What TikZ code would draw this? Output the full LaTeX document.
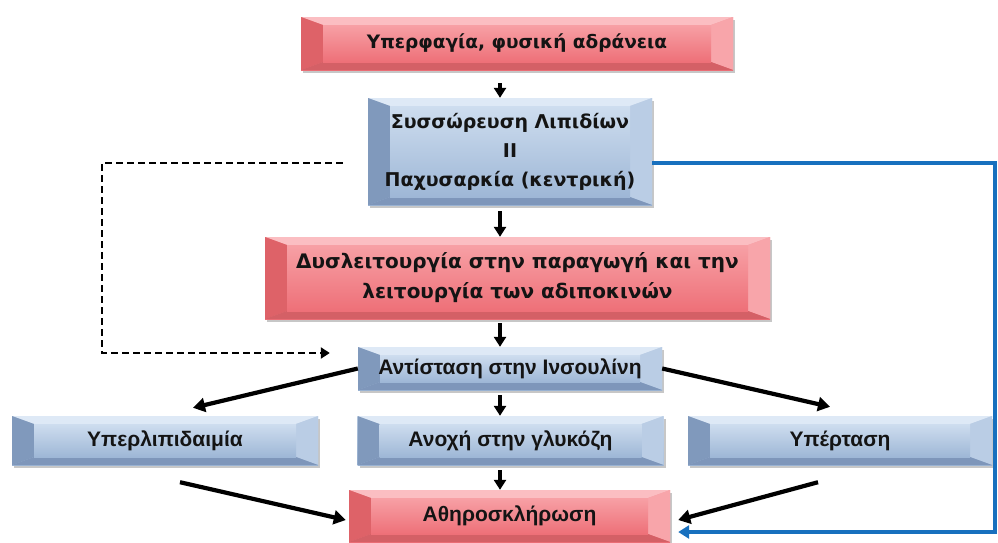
\documentclass[tikz,border=0pt]{standalone}
\usepackage{fontspec}
\setmainfont{DejaVu Sans}
\newfontfamily\narrowfont{Liberation Sans}
\usetikzlibrary{arrows.meta,shadows,calc}

\definecolor{ink}{RGB}{20,20,20}
% red bevel palette
\definecolor{redtop}{RGB}{251,190,194}
\definecolor{redleft}{RGB}{222,98,104}
\definecolor{redright}{RGB}{248,165,170}
\definecolor{redbot}{RGB}{212,96,102}
\definecolor{redhi}{RGB}{247,160,165}
\definecolor{redlo}{RGB}{238,112,120}
% blue bevel palette
\definecolor{bluetop}{RGB}{222,233,246}
\definecolor{blueleft}{RGB}{128,153,188}
\definecolor{blueright}{RGB}{186,205,229}
\definecolor{bluebot}{RGB}{126,150,186}
\definecolor{bluehi}{RGB}{206,221,239}
\definecolor{bluelo}{RGB}{158,183,214}
\definecolor{linkblue}{RGB}{24,112,190}

\begin{document}
\begin{tikzpicture}[x=1pt,y=-1pt,
  every node/.style={text=ink, align=center},
  bevelbox/.style n args={6}{rectangle, inner sep=0pt,
    drop shadow={shadow xshift=2pt, shadow yshift=-3pt, opacity=0.22, fill=black},
    path picture={
      \coordinate (bvsw) at (path picture bounding box.south west);
      \coordinate (bvne) at (path picture bounding box.north east);
      \coordinate (bvnw) at (bvsw |- bvne);
      \coordinate (bvse) at (bvne |- bvsw);
      \coordinate (ivsw) at ($(bvsw)+(22pt,8pt)$);
      \coordinate (ivne) at ($(bvne)+(-22pt,-8pt)$);
      \coordinate (ivnw) at (ivsw |- ivne);
      \coordinate (ivse) at (ivne |- ivsw);
      \shade[top color=#5, bottom color=#6] (bvsw) rectangle (bvne);
      \fill[#1] (bvnw) -- (bvne) -- (ivne) -- (ivnw) -- cycle;
      \fill[#2] (bvnw) -- (ivnw) -- (ivsw) -- (bvsw) -- cycle;
      \fill[#3] (bvne) -- (bvse) -- (ivse) -- (ivne) -- cycle;
      \fill[#4] (bvsw) -- (ivsw) -- (ivse) -- (bvse) -- cycle;
      \shade[top color=#5, bottom color=#6] (ivsw) rectangle (ivne);
    }},
  redbox/.style={bevelbox={redtop}{redleft}{redright}{redbot}{redhi}{redlo}},
  bluebox/.style={bevelbox={bluetop}{blueleft}{blueright}{bluebot}{bluehi}{bluelo}},
  smalltext/.style={font=\narrowfont\bfseries\fontsize{21}{24}\selectfont},
  varrow/.style={draw=black, line width=3.4pt, -{Triangle[width=12pt,length=10pt]}},
  darrow/.style={draw=black, line width=4.2pt, -{Triangle[width=14pt,length=12pt]}},
  dasharrow/.style={draw=black, line width=2.4pt, dash pattern=on 7pt off 4pt,
    -{Triangle[width=11pt,length=9pt]}},
  bluearrow/.style={draw=linkblue, line width=3.4pt, -{Triangle[width=13pt,length=11pt]}},
]
\useasboundingbox[fill=white] (0,0) rectangle (998,542);

% boxes
\node[redbox, font=\bfseries\fontsize{18.5}{24}\selectfont,
  minimum width=432pt, minimum height=53pt] (top) at (517,43.5)
  {Υπερφαγία, φυσική αδράνεια};
\node[bluebox, font=\bfseries\fontsize{19}{29}\selectfont,
  minimum width=284pt, minimum height=107pt] (fat) at (510,151.5)
  {Συσσώρευση Λιπιδίων\\ II\\ Παχυσαρκία (κεντρική)};
\node[redbox, font=\bfseries\fontsize{20}{30}\selectfont,
  minimum width=505pt, minimum height=82pt] (adipo) at (517.5,278)
  {Δυσλειτουργία στην παραγωγή και την\\ λειτουργία των αδιποκινών};
\node[bluebox, smalltext, minimum width=304pt, minimum height=43pt] (ins) at (510,368.5)
  {Αντίσταση στην Ινσουλίνη};
\node[bluebox, smalltext, minimum width=306pt, minimum height=49pt] (lip) at (165,440.5)
  {Υπερλιπιδαιμία};
\node[bluebox, smalltext, minimum width=306pt, minimum height=49pt] (gluc) at (510.5,440.5)
  {Ανοχή στην γλυκόζη};
\node[bluebox, smalltext, minimum width=304pt, minimum height=49pt] (hyp) at (840,440.5)
  {Υπέρταση};
\node[redbox, smalltext, minimum width=321pt, minimum height=52pt] (ath) at (509.5,516)
  {Αθηροσκλήρωση};

% main vertical chain
\coordinate (col) at (500,0);
\draw[varrow, shorten <=13pt] (top.south -| col) -- (fat.north -| col);
\draw[varrow, shorten <=6pt] (fat.south -| col) -- (adipo.north -| col);
\draw[varrow, shorten <=4pt] (adipo.south -| col) -- (ins.north -| col);
\draw[varrow, shorten <=5pt] (ins.south -| col) -- (gluc.north -| col);
\draw[varrow, shorten <=5pt] (gluc.south -| col) -- (ath.north -| col);

% branches from insulin resistance
\draw[darrow] (ins.west) -- ([xshift=28pt,yshift=8pt]lip.north);
\draw[darrow] (ins.east) -- ([xshift=-10pt,yshift=9pt]hyp.north);

% converging on atherosclerosis
\draw[darrow] ([xshift=15pt,yshift=-17pt]lip.south) -- ([xshift=-3pt,yshift=-4pt]ath.west);
\draw[darrow] ([xshift=-22pt,yshift=-17pt]hyp.south) -- ([xshift=8pt,yshift=-4pt]ath.east);

% dashed feedback from obesity to insulin resistance
\coordinate (dcol) at (102,0);
\coordinate (ds) at ([xshift=-25pt,yshift=-11.5pt]fat.west);
\coordinate (dt) at ([xshift=-28pt,yshift=15.5pt]ins.west);
\draw[dasharrow] (ds) -| (dcol |- dt) -- (dt);

% direct link from obesity to atherosclerosis
\coordinate (bcol) at (995,0);
\coordinate (bs) at ([yshift=-11.5pt]fat.east);
\coordinate (bt) at ([xshift=8pt,yshift=-16pt]ath.east);
\draw[bluearrow] (bs) -| (bcol |- bt) -- (bt);
\end{tikzpicture}
\end{document}
